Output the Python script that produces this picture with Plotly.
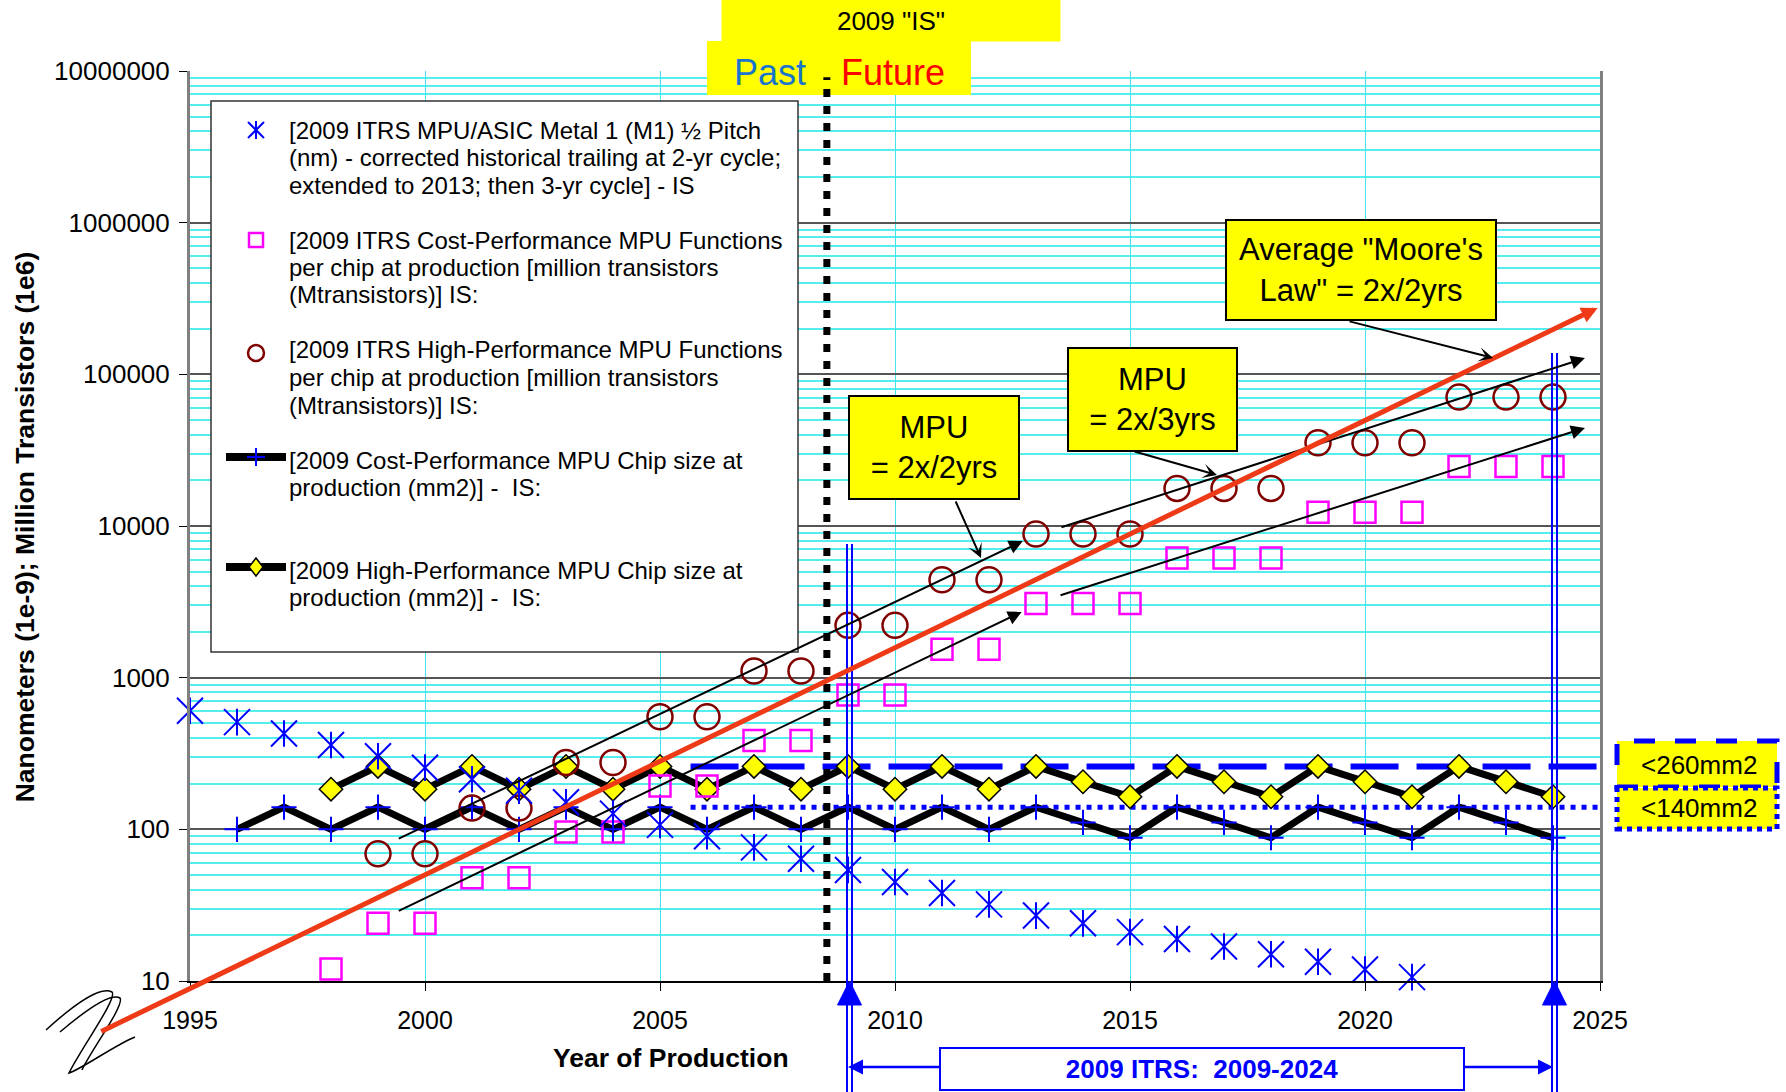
import numpy as np
import plotly.graph_objects as go

# ---------------------------------------------------------------- data
pitch_years = list(range(1995, 2022))
m1_half_pitch = [605, 509, 428, 360, 303, 255, 214, 180, 151, 127, 107, 90, 76, 64,
                 54, 45, 38, 32, 27, 24, 21, 18.9, 16.9, 15.0, 13.4, 11.9, 10.6]

cp_func_years = list(range(1998, 2025))
cp_functions = [12, 24, 24, 48, 48, 96, 96, 193, 193, 385, 385, 770, 770, 1540, 1540,
                3080, 3080, 3080, 6160, 6160, 6160, 12320, 12320, 12320,
                24640, 24640, 24640]

hp_func_years = list(range(1999, 2025))
hp_functions = [69, 69, 138, 138, 276, 276, 553, 553, 1106, 1106, 2212, 2212, 4424, 4424,
                8848, 8848, 8848, 17696, 17696, 17696, 35391, 35391, 35391,
                70782, 70782, 70782]

cp_chip_years = list(range(1996, 2025))
cp_chip_size = [100, 140, 100, 140, 100, 140, 100, 140, 100, 140, 100, 140, 100,
                140, 100, 140, 100, 140, 111, 88, 140, 111, 88, 140, 111, 88,
                140, 111, 88]

hp_chip_years = list(range(1998, 2025))
hp_chip_size = [184, 260, 184, 260, 184, 260, 184, 260, 184, 260, 184, 260, 184,
                260, 184, 260, 206, 164, 260, 206, 164, 260, 206, 164, 260, 206, 164]

limit_years = [2005.65, 2025]
hp_chip_limit = 260
cp_chip_limit = 140

# trend arrows: (year, value) tail -> head
moore_law = [(1993.08, 4.6), (2024.95, 274000)]
trend_arrows = [
    [(1999.41, 86), (2012.72, 7960)],
    [(1999.41, 28.7), (2012.70, 2720)],
    [(2013.51, 9750), (2024.68, 128000)],
    [(2013.49, 3470), (2024.68, 44300)],
]

past_future_split = 2008.55
itrs_start, itrs_end = 2009, 2024

x_tick_vals = [1995, 2000, 2005, 2010, 2015, 2020, 2025]
y_tick_vals = [10, 100, 1000, 10000, 100000, 1000000, 10000000]
y_tick_text = ["10", "100", "1000", "10000", "100000", "1000000", "10000000"]

legend_lines = [
    ["[2009 ITRS MPU/ASIC Metal 1 (M1) \u00bd Pitch",
     "(nm) - corrected historical trailing at 2-yr cycle;",
     "extended to 2013; then 3-yr cycle] - IS"],
    ["[2009 ITRS Cost-Performance MPU Functions",
     "per chip at production [million transistors",
     "(Mtransistors)] IS:"],
    ["[2009 ITRS High-Performance MPU Functions",
     "per chip at production [million transistors",
     "(Mtransistors)] IS:"],
    ["[2009 Cost-Performance MPU Chip size at",
     "production (mm2)] -  IS:"],
    ["[2009 High-Performance MPU Chip size at",
     "production (mm2)] -  IS:"],
]

# ---------------------------------------------------------------- layout helpers
W, H = 1786, 1092
PL, PR, PT, PB = 190, 1600, 71, 981
FONT = "Arial, Liberation Sans, sans-serif"
CYAN = "#55EEEE"
BLUE = "#0000FF"
MAGENTA = "#FF00FF"
DARK_RED = "#800000"


def px(x):
    return x / W


def py(y):
    return 1 - y / H


fig = go.Figure()

# reference chip-size limits
fig.add_trace(go.Scatter(x=limit_years, y=[hp_chip_limit] * 2, mode="lines",
                         line=dict(color=BLUE, width=6, dash="48px,18px")))
fig.add_trace(go.Scatter(x=limit_years, y=[cp_chip_limit] * 2, mode="lines",
                         line=dict(color=BLUE, width=5, dash="5px,6px")))

# chip sizes
fig.add_trace(go.Scatter(x=cp_chip_years, y=cp_chip_size, mode="lines+markers",
                         line=dict(color="black", width=7),
                         marker=dict(symbol="cross-thin-open", size=18, color=BLUE,
                                     line=dict(color=BLUE, width=2))))
fig.add_trace(go.Scatter(x=hp_chip_years, y=hp_chip_size, mode="lines+markers",
                         line=dict(color="black", width=7),
                         marker=dict(symbol="diamond", size=18, color="#FFFF00",
                                     line=dict(color="black", width=1.5))))

# functions per chip
fig.add_trace(go.Scatter(x=cp_func_years, y=cp_functions, mode="markers",
                         marker=dict(symbol="square-open", size=21, color=MAGENTA,
                                     line=dict(color=MAGENTA, width=2.5))))
fig.add_trace(go.Scatter(x=hp_func_years, y=hp_functions, mode="markers",
                         marker=dict(symbol="circle-open", size=25, color=DARK_RED,
                                     line=dict(color=DARK_RED, width=2.5))))

# M1 half pitch (six-spoke asterisk)
fig.add_trace(go.Scatter(x=pitch_years, y=m1_half_pitch, mode="markers", cliponaxis=False,
                         marker=dict(symbol="x-thin-open", size=26, color=BLUE,
                                     line=dict(color=BLUE, width=2))))
fig.add_trace(go.Scatter(x=pitch_years, y=m1_half_pitch, mode="markers", cliponaxis=False,
                         marker=dict(symbol="line-ns-open", size=19, color=BLUE,
                                     line=dict(color=BLUE, width=2))))

minor_vals = [k * 10 ** e for e in range(1, 7) for k in range(2, 10)]

fig.update_layout(
    width=W, height=H, margin=dict(l=0, r=0, t=0, b=0, autoexpand=False),
    paper_bgcolor="white", plot_bgcolor="white", showlegend=False,
    font=dict(family=FONT, color="black"),
)
fig.update_xaxes(
    domain=[px(PL), px(PR)], range=[1995, 2025], tickvals=x_tick_vals,
    ticks="outside", ticklen=8, tickwidth=1, tickcolor="black",
    showline=True, linecolor="black", linewidth=2,
    showgrid=True, gridcolor="#40E4EC", gridwidth=1, zeroline=False,
    tickfont=dict(size=25), ticklabelstandoff=8, automargin=False,
)
fig.update_yaxes(
    type="log", domain=[py(PB), py(PT)], range=[1, 7],
    tickvals=y_tick_vals, ticktext=y_tick_text,
    ticks="outside", ticklen=8, tickwidth=1, tickcolor="black",
    showline=True, linecolor="#808080", linewidth=3, mirror=True,
    showgrid=True, gridcolor="#555555", gridwidth=1.5, zeroline=False,
    minor=dict(tickvals=minor_vals, showgrid=True, gridcolor=CYAN, gridwidth=1.6, ticks=""),
    tickfont=dict(size=26), ticklabelstandoff=4, automargin=False,
)

shapes = []
annotations = []


def rect_px(x0, y0, x1, y1, **kw):
    shapes.append(dict(type="rect", xref="paper", yref="paper",
                       x0=px(x0), x1=px(x1), y0=py(y1), y1=py(y0), layer="above", **kw))


def line_px(x0, y0, x1, y1, **kw):
    shapes.append(dict(type="line", xref="paper", yref="paper",
                       x0=px(x0), x1=px(x1), y0=py(y0), y1=py(y1), layer="above", **kw))


def path_px(points, closed=False, **kw):
    d = "M" + " L".join(f"{px(a):.5f},{py(b):.5f}" for a, b in points)
    if closed:
        d += " Z"
    shapes.append(dict(type="path", xref="paper", yref="paper", path=d, layer="above", **kw))


def label_px(x, y, text, **kw):
    """Text placed by its centre in figure pixels."""
    opts = dict(xref="paper", yref="paper", x=px(x), y=py(y), text=text, showarrow=False,
                xanchor="center", yanchor="middle")
    opts.update(kw)
    annotations.append(opts)


# ---------------------------------------------------------------- legend panel
rect_px(211, 101, 798, 652, line=dict(color="#333333", width=1.5), fillcolor="white")
line_h = 27.5
first_line_y = [130, 240, 350, 460, 570]
# symbols
line_px(248, 122, 264, 138, line=dict(color=BLUE, width=2))
line_px(248, 138, 264, 122, line=dict(color=BLUE, width=2))
line_px(256, 121, 256, 139, line=dict(color=BLUE, width=2))
rect_px(249, 233, 263, 247, line=dict(color=MAGENTA, width=2.5))
shapes.append(dict(type="circle", xref="paper", yref="paper", x0=px(248), x1=px(264),
                   y0=py(361), y1=py(345), layer="above",
                   line=dict(color=DARK_RED, width=2.5)))
line_px(226, 457, 286, 457, line=dict(color="black", width=8))
line_px(247, 457, 265, 457, line=dict(color=BLUE, width=2))
line_px(256, 448, 256, 466, line=dict(color=BLUE, width=2))
line_px(226, 567, 286, 567, line=dict(color="black", width=8))
path_px([(256, 558), (263, 567), (256, 576), (249, 567)], closed=True,
        fillcolor="#FFFF00", line=dict(color="black", width=1.5))
for y0, lines in zip(first_line_y, legend_lines):
    for k, txt in enumerate(lines):
        label_px(288, y0 + k * line_h, txt, xanchor="left", borderpad=0,
                 font=dict(size=24, family=FONT, color="black"))

# ---------------------------------------------------------------- Past / Future header
rect_px(707, 41, 971, 95, fillcolor="#FFFF00", line=dict(width=0))
shapes.append(dict(type="line", xref="x", yref="y domain", x0=past_future_split,
                   x1=past_future_split, y0=0, y1=0.993, layer="above",
                   line=dict(color="black", width=7, dash="8px,9px")))
label_px(891, 20.5, '2009 "IS"', bgcolor="#FFFF00", width=338, height=41, borderpad=0,
         font=dict(size=26, family=FONT, color="black"))
label_px(769.5, 73, "Past", font=dict(size=36, family=FONT, color="#1874CD"))
label_px(892.5, 73, "Future", font=dict(size=36, family=FONT, color="#FF0000"))

# ---------------------------------------------------------------- limit boxes on the right
rect_px(1617, 741, 1777, 787, fillcolor="#FFFF00", line=dict(color=BLUE, width=5, dash="21px,20px"))
rect_px(1617, 788, 1777, 829, fillcolor="#FFFF00", line=dict(color=BLUE, width=5, dash="5px,5px"))
label_px(1699, 765, "&lt;260mm2", font=dict(size=26, family=FONT, color="black"))
label_px(1699, 808, "&lt;140mm2", font=dict(size=26, family=FONT, color="black"))

# ---------------------------------------------------------------- ITRS 2009-2024 span
for yr, top in [(itrs_start, 544), (itrs_end, 353)]:
    for off in (-1, 4):
        shapes.append(dict(type="line", xref="x", yref="paper", xsizemode="pixel", xanchor=yr,
                           x0=off, x1=off, y0=py(top), y1=py(1092), layer="above",
                           line=dict(color=BLUE, width=2)))
    shapes.append(dict(type="path", xref="x", yref="paper", xsizemode="pixel", xanchor=yr,
                       path=f"M-10.5,{py(1005):.5f} L1.5,{py(981):.5f} L13.5,{py(1005):.5f} Z",
                       fillcolor=BLUE, line=dict(color=BLUE, width=1), layer="above"))
for head, tail in [(itrs_start, 2011.5), (itrs_end, 2021.5)]:
    annotations.append(dict(xref="x", yref="paper", x=head, y=py(1067), axref="x", ax=tail,
                            ayref="pixel", ay=0, text="", showarrow=True, arrowhead=2,
                            arrowsize=1.2, arrowwidth=2.5, arrowcolor=BLUE, standoff=0))
label_px(1202, 1069, "<b>2009 ITRS:\u00a0 2009-2024</b>",
         bgcolor="white", bordercolor=BLUE, borderwidth=2, borderpad=0,
         width=522, height=40, font=dict(size=26, family=FONT, color=BLUE))

# ---------------------------------------------------------------- trend arrows
for tail, head in trend_arrows:
    annotations.append(dict(xref="x", yref="y", axref="x", ayref="y",
                            x=head[0], y=np.log10(head[1]), ax=tail[0], ay=np.log10(tail[1]),
                            text="", showarrow=True, arrowhead=2, arrowsize=1.4,
                            arrowwidth=2, arrowcolor="black", standoff=0))
annotations.append(dict(xref="x", yref="y", axref="x", ayref="y",
                        x=moore_law[1][0], y=np.log10(moore_law[1][1]),
                        ax=moore_law[0][0], ay=np.log10(moore_law[0][1]),
                        text="", showarrow=True, arrowhead=2, arrowsize=0.65,
                        arrowwidth=5, arrowcolor="#EE3A16", standoff=0))

# ---------------------------------------------------------------- callouts
callouts = [
    ("MPU<br>= 2x/2yrs", (934, 447.5), 168, 101, (955, 500), (981, 558)),
    ("MPU<br>= 2x/3yrs", (1152.5, 399.5), 167, 101, (1133, 451), (1217, 475)),
    ("Average \"Moore's<br>Law\" = 2x/2yrs", (1361, 270), 268, 98, (1348, 321), (1493, 358)),
]
for text, (cx, cy), w, h, tail, head in callouts:
    annotations.append(dict(xref="paper", yref="paper", x=px(head[0]), y=py(head[1]),
                            ax=tail[0] - head[0], ay=tail[1] - head[1], text="",
                            showarrow=True, arrowhead=3, arrowsize=1.2, arrowwidth=2,
                            arrowcolor="black", standoff=0))
    label_px(cx, cy, text, bgcolor="#FFFF00", bordercolor="black",
             borderwidth=2, borderpad=0, width=w, height=h,
             font=dict(size=31, family=FONT, color="black"))

# ---------------------------------------------------------------- axis titles
label_px(671, 1058, "<b>Year of Production</b>", font=dict(size=26.5, family=FONT, color="black"))
label_px(25, 463 * 1.139, "<b>Nanometers (1e-9); Million Transistors (1e6)</b>", textangle=-90,
         font=dict(size=26.5, family=FONT, color="black"))


# ---------------------------------------------------------------- axis break mark
def curve_px(pts):
    d = f"M{px(pts[0][0]):.5f},{py(pts[0][1]):.5f}"
    for i in range(1, len(pts), 3):
        c1, c2, e = pts[i], pts[i + 1], pts[i + 2]
        d += (f" C{px(c1[0]):.5f},{py(c1[1]):.5f} {px(c2[0]):.5f},{py(c2[1]):.5f}"
              f" {px(e[0]):.5f},{py(e[1]):.5f}")
    shapes.append(dict(type="path", xref="paper", yref="paper", path=d, layer="above",
                       line=dict(color="black", width=1.5)))


curve_px([(46, 1030), (70, 1008), (100, 985), (112, 992), (118, 998), (80, 1050), (69, 1073),
          (80, 1070), (115, 1045), (135, 1037)])
curve_px([(60, 1032), (80, 1015), (110, 992), (120, 998), (125, 1005), (90, 1052), (82, 1070)])

fig.update_layout(shapes=shapes, annotations=annotations)
fig.write_html("out.html")
